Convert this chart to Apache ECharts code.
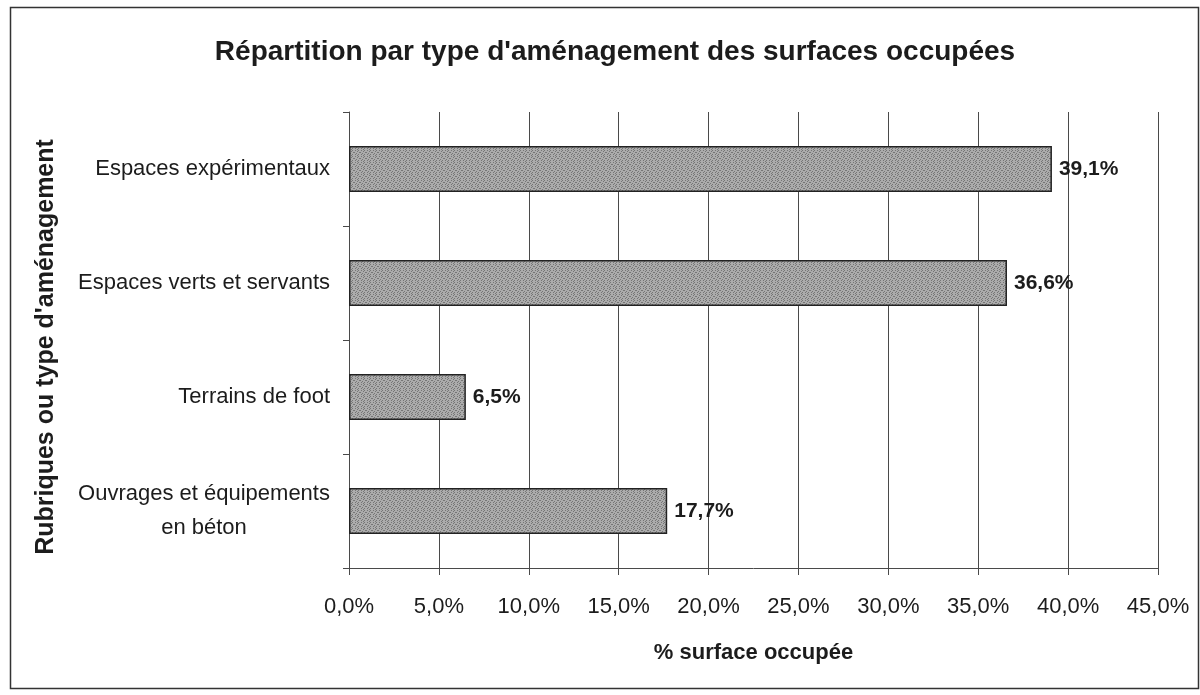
<!DOCTYPE html>
<html>
<head>
<meta charset="utf-8">
<script src="https://cdn.jsdelivr.net/npm/echarts@6/dist/echarts.min.js"></script>
<style>
  html, body { margin: 0; padding: 0; background: #fff; }
  #chart { width: 1200px; height: 695px; }
</style>
</head>
<body>
<div id="chart"></div>
<script>
// Categories, top to bottom
const categories = [
  'Espaces expérimentaux',
  'Espaces verts et servants',
  'Terrains de foot',
  'Ouvrages et équipements\nen béton'
];
// Share of occupied surface, in %
const shares = [39.1, 36.6, 6.5, 17.7];
// X axis tick values, in %
const xTicks = [0, 5, 10, 15, 20, 25, 30, 35, 40, 45];

const titleText = "Répartition par type d'aménagement des surfaces occupées";
const xAxisTitle = '% surface occupée';
const yAxisTitle = "Rubriques ou type d'aménagement";

const FONT = "'Liberation Sans', Arial, sans-serif";
const INK = '#1c1c1c';
const GRID = '#4a4a4a';

const fmtPct = v => v.toFixed(1).replace('.', ',') + '%';

// Grey dithered fill for the bars
function makeBarPattern() {
  const dots = [
    [0, 1, 0, 0, 1, 0],
    [0, 0, 0, 1, 0, 0],
    [1, 0, 0, 0, 0, 1],
    [0, 0, 1, 0, 0, 0],
    [0, 1, 0, 0, 1, 0],
    [0, 0, 0, 1, 0, 0]
  ];
  const c = document.createElement('canvas');
  c.width = 6; c.height = 6;
  const g = c.getContext('2d');
  g.fillStyle = '#acacac';
  g.fillRect(0, 0, 6, 6);
  g.fillStyle = '#767676';
  dots.forEach((row, y) => row.forEach((d, x) => { if (d) g.fillRect(x, y, 1, 1); }));
  return c;
}

const chart = echarts.init(document.getElementById('chart'), null, { renderer: 'canvas' });

chart.setOption({
  backgroundColor: '#fff',
  animation: false,
  textStyle: { fontFamily: FONT, color: INK },
  title: {
    text: titleText,
    left: 610,
    textAlign: 'center',
    top: 33,
    textStyle: { fontFamily: FONT, fontSize: 28, fontWeight: 'bold', color: INK }
  },
  graphic: [{
    type: 'rect',
    shape: { x: 10.5, y: 7.5, width: 1188, height: 681 },
    style: { fill: 'none', stroke: '#333', lineWidth: 1.5 },
    silent: true,
    z: 100
  }],
  grid: { left: 349, right: 42, top: 112, bottom: 127, containLabel: false },
  xAxis: {
    type: 'value',
    min: xTicks[0],
    max: xTicks[xTicks.length - 1],
    interval: xTicks[1] - xTicks[0],
    name: xAxisTitle,
    nameLocation: 'middle',
    nameGap: 74,
    nameTextStyle: { fontFamily: FONT, fontSize: 22, fontWeight: 'bold', color: INK },
    axisLine: { show: true, lineStyle: { color: GRID, width: 1 } },
    axisTick: { show: true, length: 7, lineStyle: { color: GRID } },
    axisLabel: {
      margin: 28,
      fontFamily: FONT,
      fontSize: 22,
      color: INK,
      formatter: v => fmtPct(v)
    },
    splitLine: { show: true, lineStyle: { color: GRID, width: 1 } }
  },
  yAxis: {
    type: 'category',
    inverse: true,
    data: categories,
    name: yAxisTitle,
    nameLocation: 'middle',
    nameGap: 290,
    nameRotate: 90,
    nameTextStyle: {
      fontFamily: FONT, fontSize: 25, fontWeight: 'bold', color: INK,
      padding: [0, 14, 0, 0]
    },
    axisLine: { show: true, lineStyle: { color: GRID, width: 1 } },
    axisTick: { show: true, length: 6, alignWithLabel: false, interval: 0, lineStyle: { color: GRID } },
    axisLabel: {
      margin: 19,
      fontFamily: FONT,
      fontSize: 22,
      color: INK,
      interval: 0,
      formatter: v => v.indexOf('\n') >= 0
        ? v.split('\n').map(s => '{c|' + s + '}').join('\n')
        : v,
      rich: {
        c: { width: 252, align: 'center', lineHeight: 34, fontSize: 22, fontFamily: FONT, color: INK }
      }
    },
    splitLine: { show: false }
  },
  series: [{
    type: 'bar',
    data: shares,
    barWidth: 46,
    itemStyle: {
      color: { image: makeBarPattern(), repeat: 'repeat' },
      borderColor: '#222',
      borderWidth: 1.5
    },
    label: {
      show: true,
      position: 'right',
      distance: 7,
      fontFamily: FONT,
      fontSize: 21,
      fontWeight: 'bold',
      color: INK,
      formatter: p => fmtPct(p.value)
    }
  }]
});
</script>
</body>
</html>
